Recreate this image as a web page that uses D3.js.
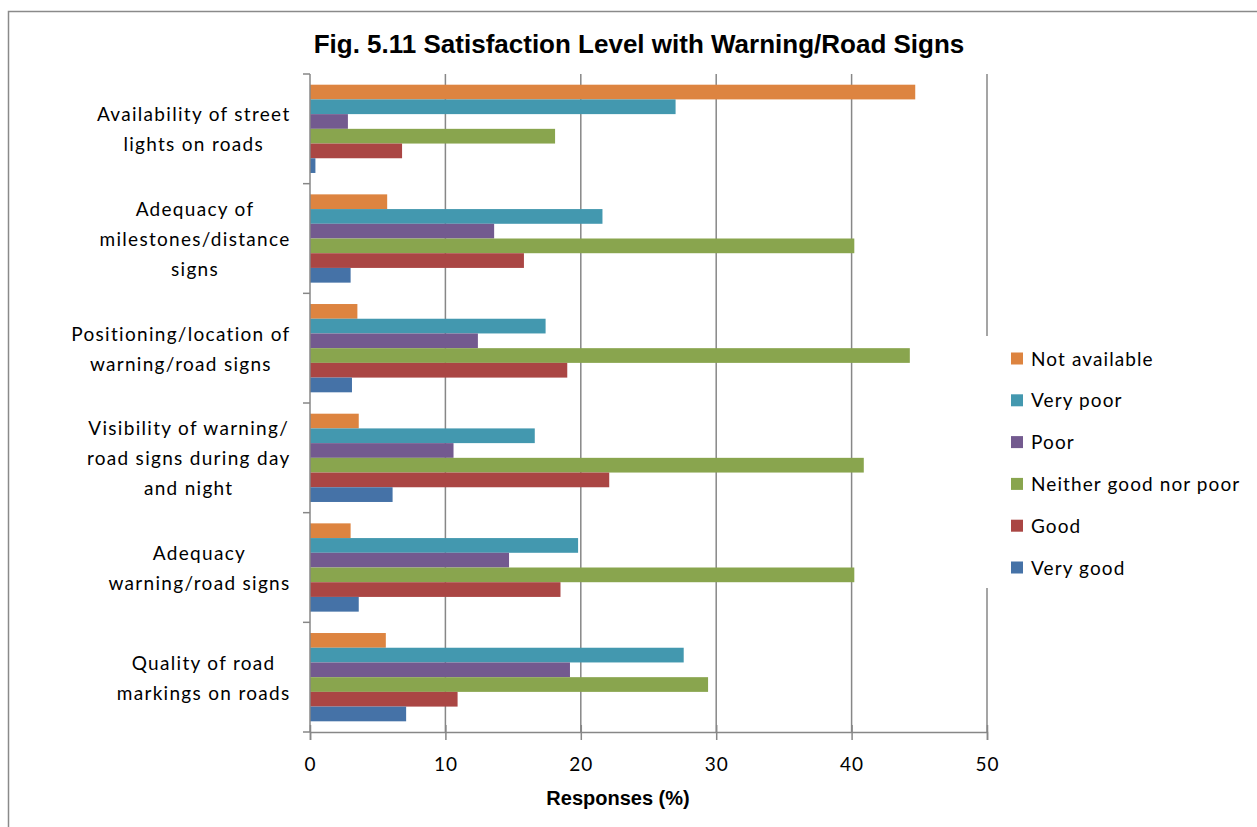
<!DOCTYPE html>
<html>
<head>
<meta charset="utf-8">
<script src="https://cdn.jsdelivr.net/npm/d3@7"></script>
<style>
  body { margin: 0; background: #fff; }
  svg { display: block; }
</style>
</head>
<body>
<svg id="chart" width="1257" height="827"></svg>
<script>
// Survey categories, top to bottom ("|" marks a line break)
const categories = [
  "Availability of street|lights on roads",
  "Adequacy of|milestones/distance|signs",
  "Positioning/location of|warning/road signs",
  "Visibility of warning/|road signs during day|and night",
  "Adequacy|warning/road signs",
  "Quality of road|markings on roads"
];

// Response series, drawn top to bottom within each category
const seriesNames = ["Not available", "Very poor", "Poor", "Neither good nor poor", "Good", "Very good"];
const seriesColors = ["#DD8440", "#4398AF", "#735A8F", "#89A54E", "#AA4644", "#4572A7"];

// Responses (%) per series, one value per category
const notAvailable = [44.7, 5.7, 3.5, 3.6, 3.0, 5.6];
const veryPoor     = [27.0, 21.6, 17.4, 16.6, 19.8, 27.6];
const poor         = [2.8, 13.6, 12.4, 10.6, 14.7, 19.2];
const neither      = [18.1, 40.2, 44.3, 40.9, 40.2, 29.4];
const good         = [6.8, 15.8, 19.0, 22.1, 18.5, 10.9];
const veryGood     = [0.4, 3.0, 3.1, 6.1, 3.6, 7.1];

const xTicks = [0, 10, 20, 30, 40, 50];

const seriesValues = [notAvailable, veryPoor, poor, neither, good, veryGood];

const svg = d3.select("#chart");
const labelFont = "Lato, 'Open Sans', sans-serif";
const gridColor = "#878787";

// Outer chart frame
svg.append("rect")
  .attr("x", 8.5).attr("y", 11.5)
  .attr("width", 1300).attr("height", 900)
  .attr("fill", "#fff").attr("stroke", "#8a8a8a").attr("stroke-width", 1.5);

// Title
svg.append("text")
  .attr("x", 639).attr("y", 53)
  .attr("text-anchor", "middle")
  .attr("font-family", "Liberation Sans, Arial, sans-serif")
  .attr("font-weight", "bold")
  .attr("font-size", 26)
  .attr("fill", "#000")
  .text("Fig. 5.11 Satisfaction Level with Warning/Road Signs");

const plot = { left: 310, right: 987, top: 74, bottom: 732 };

const x = d3.scaleLinear().domain([0, 50]).range([plot.left, plot.right]);
const yCat = d3.scaleBand().domain(d3.range(categories.length)).range([plot.top, plot.bottom]);
const y = d3.scaleBand().domain(d3.range(categories.length)).range([plot.top, plot.bottom])
  .paddingInner(0.195).paddingOuter(0.0975);
const ySub = d3.scaleBand().domain(d3.range(seriesNames.length)).range([0, y.bandwidth()]);

// Vertical gridlines
svg.append("g")
  .selectAll("line")
  .data(xTicks.filter(t => t > 0))
  .join("line")
  .attr("x1", d => x(d)).attr("x2", d => x(d))
  .attr("y1", plot.top).attr("y2", plot.bottom)
  .attr("stroke", gridColor).attr("stroke-width", 1.5);

// Bars
const groups = svg.append("g")
  .selectAll("g")
  .data(categories.map((c, i) => i))
  .join("g")
  .attr("transform", i => `translate(0,${y(i)})`);

groups.selectAll("rect")
  .data(i => seriesValues.map((vals, s) => ({ s, v: vals[i] })))
  .join("rect")
  .attr("x", x(0))
  .attr("y", d => ySub(d.s))
  .attr("width", d => x(d.v) - x(0))
  .attr("height", ySub.bandwidth())
  .attr("fill", d => seriesColors[d.s]);

// Category axis (left)
const yAxisG = svg.append("g").attr("transform", `translate(${plot.left},0)`);
yAxisG.append("line")
  .attr("x1", 0).attr("x2", 0).attr("y1", plot.top).attr("y2", plot.bottom)
  .attr("stroke", gridColor).attr("stroke-width", 1.5);
yAxisG.selectAll("line.tick")
  .data(d3.range(categories.length + 1))
  .join("line")
  .attr("class", "tick")
  .attr("x1", -7).attr("x2", 0)
  .attr("y1", i => i < categories.length ? yCat(i) : plot.bottom)
  .attr("y2", i => i < categories.length ? yCat(i) : plot.bottom)
  .attr("stroke", gridColor).attr("stroke-width", 1.5);

// Wrapped category labels: lines centred on each other, block flush near the axis
const labelRight = -19.5;
yAxisG.selectAll("text.cat")
  .data(categories)
  .join("text")
  .attr("class", "cat")
  .attr("font-family", labelFont)
  .attr("font-size", 19)
  .attr("letter-spacing", 1.3)
  .attr("fill", "#000")
  .attr("text-anchor", "middle")
  .each(function (d, i) {
    const lines = d.split("|");
    const cy = yCat(i) + yCat.bandwidth() / 2;
    const lh = 30;
    const t = d3.select(this);
    const spans = lines.map((ln, k) =>
      t.append("tspan")
        .attr("y", cy + (k - (lines.length - 1) / 2) * lh + 7.5)
        .text(ln));
    const maxW = d3.max(spans, s => s.node().getComputedTextLength());
    spans.forEach(s => s.attr("x", labelRight - maxW / 2));
  });

// Value axis (bottom); ticks cross the axis line
const xAxis = d3.axisBottom(x).tickValues(xTicks).tickSize(8).tickPadding(18);
const xAxisG = svg.append("g")
  .attr("transform", `translate(0,${plot.bottom})`)
  .call(xAxis);
xAxisG.select(".domain").attr("stroke", gridColor).attr("stroke-width", 1.5);
xAxisG.selectAll(".tick line")
  .attr("y1", -7)
  .attr("stroke", gridColor).attr("stroke-width", 1.5);
xAxisG.selectAll(".tick text")
  .attr("font-family", labelFont)
  .attr("font-size", 19)
  .attr("letter-spacing", 1)
  .attr("fill", "#000");

// Axis title
svg.append("text")
  .attr("x", 618).attr("y", 805)
  .attr("text-anchor", "middle")
  .attr("font-family", "Liberation Sans, Arial, sans-serif")
  .attr("font-weight", "bold")
  .attr("font-size", 20)
  .attr("fill", "#000")
  .text("Responses (%)");

// Legend
const legend = svg.append("g").attr("transform", "translate(985,336)");
legend.append("rect")
  .attr("x", 0).attr("y", 0).attr("width", 268).attr("height", 252)
  .attr("fill", "#fff");
const items = legend.selectAll("g.item")
  .data(seriesNames)
  .join("g")
  .attr("class", "item")
  .attr("transform", (d, i) => `translate(0,${22.5 + i * 41.8})`);
items.append("rect")
  .attr("x", 26).attr("y", -6)
  .attr("width", 12).attr("height", 12)
  .attr("fill", (d, i) => seriesColors[i]);
items.append("text")
  .attr("x", 46).attr("y", 7)
  .attr("font-family", labelFont)
  .attr("font-size", 19)
  .attr("letter-spacing", 1.1)
  .attr("fill", "#000")
  .text(d => d);
</script>
</body>
</html>
